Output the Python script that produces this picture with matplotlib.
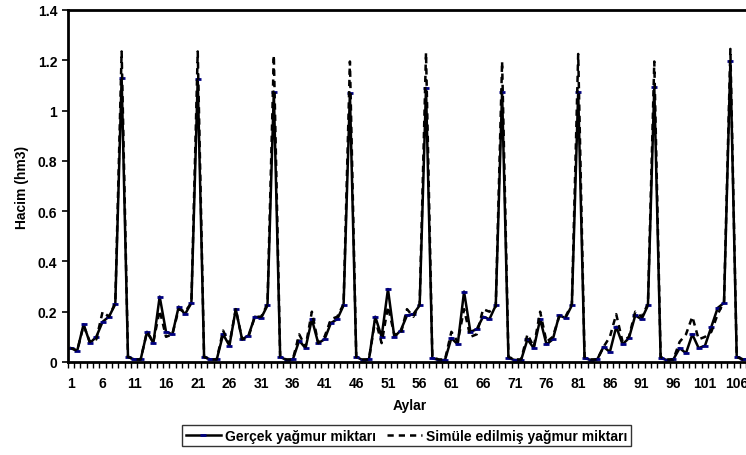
import numpy as np
import matplotlib
matplotlib.use("Agg")
import matplotlib.pyplot as plt

plt.rcParams['font.family'] = ['Liberation Sans', 'DejaVu Sans']
plt.rcParams['font.weight'] = 'bold'

# Aylık hacim değerleri (hm3), 9 yıl x 12 ay
gercek = [
    0.055, 0.045, 0.15, 0.075, 0.10, 0.16, 0.18, 0.23, 1.13, 0.02, 0.01, 0.01,
    0.12, 0.075, 0.26, 0.12, 0.11, 0.22, 0.19, 0.235, 1.125, 0.02, 0.01, 0.01,
    0.11, 0.065, 0.21, 0.09, 0.105, 0.18, 0.175, 0.225, 1.075, 0.02, 0.008, 0.01,
    0.085, 0.055, 0.17, 0.075, 0.09, 0.155, 0.17, 0.225, 1.07, 0.02, 0.008, 0.01,
    0.18, 0.10, 0.29, 0.10, 0.125, 0.185, 0.19, 0.225, 1.09, 0.015, 0.008, 0.008,
    0.095, 0.07, 0.28, 0.12, 0.13, 0.18, 0.17, 0.225, 1.075, 0.015, 0.008, 0.008,
    0.09, 0.055, 0.17, 0.07, 0.09, 0.185, 0.175, 0.225, 1.075, 0.015, 0.008, 0.01,
    0.06, 0.04, 0.14, 0.07, 0.095, 0.185, 0.17, 0.225, 1.095, 0.015, 0.008, 0.01,
    0.055, 0.035, 0.11, 0.055, 0.065, 0.14, 0.215, 0.235, 1.195, 0.02, 0.01, 0.01,
]
simule = [
    0.055, 0.045, 0.145, 0.08, 0.09, 0.20, 0.18, 0.235, 1.235, 0.02, 0.01, 0.01,
    0.12, 0.08, 0.205, 0.10, 0.11, 0.21, 0.20, 0.235, 1.235, 0.02, 0.01, 0.01,
    0.125, 0.07, 0.21, 0.09, 0.10, 0.18, 0.18, 0.23, 1.22, 0.02, 0.01, 0.01,
    0.11, 0.06, 0.20, 0.075, 0.10, 0.17, 0.18, 0.23, 1.195, 0.02, 0.01, 0.01,
    0.17, 0.075, 0.22, 0.11, 0.11, 0.21, 0.18, 0.23, 1.23, 0.02, 0.01, 0.01,
    0.12, 0.08, 0.21, 0.10, 0.11, 0.21, 0.20, 0.22, 1.195, 0.02, 0.01, 0.01,
    0.11, 0.06, 0.20, 0.08, 0.10, 0.18, 0.18, 0.23, 1.225, 0.02, 0.01, 0.01,
    0.06, 0.10, 0.19, 0.08, 0.10, 0.20, 0.18, 0.23, 1.195, 0.02, 0.01, 0.01,
    0.08, 0.11, 0.18, 0.09, 0.10, 0.12, 0.19, 0.24, 1.245, 0.02, 0.01, 0.01,
]
aylar = np.arange(1, len(gercek) + 1)
x_etiketleri = list(range(1, 107, 5))
y_etiketleri = [0, 0.2, 0.4, 0.6, 0.8, 1, 1.2, 1.4]

fig = plt.figure(figsize=(7.46, 4.56), dpi=100)
# eksen sağda resmin dışına taşıyor (orijinalde kesik)
ax = fig.add_axes([0.0908, 0.204, 0.918, 0.772])

ax.plot(aylar, gercek, color='black', lw=1.8, marker='_', ms=5, mew=2,
        mec='#000080', label='Gerçek yağmur miktarı')
ax.plot(aylar, simule, color='black', lw=1.8, ls=(0, (2.5, 2)),
        label='Simüle edilmiş yağmur miktarı')

ax.set_xlim(0.5, len(aylar) + 0.5)
ax.set_ylim(0, 1.4)
ax.set_yticks(y_etiketleri)
ax.set_yticklabels(['0', '0.2', '0.4', '0.6', '0.8', '1', '1.2', '1.4'])
ax.set_xticks(x_etiketleri)
ax.set_xticks(np.arange(0.5, len(aylar) + 1, 1), minor=True)
ax.tick_params(axis='x', which='major', length=0, pad=10, labelsize=10)
ax.tick_params(axis='x', which='minor', length=4, width=1, direction='out')
ax.tick_params(axis='y', length=4, width=1.2, labelsize=10)

for s in ['left', 'bottom', 'top', 'right']:
    ax.spines[s].set_linewidth(2)

ax.set_xlabel('Aylar', fontsize=10, fontweight='bold', labelpad=6)
ax.set_ylabel('Hacim (hm3)', fontsize=10, fontweight='bold', labelpad=6)

leg = fig.legend(loc='center', bbox_to_anchor=(0.545, 0.042), ncol=2,
                 fontsize=10, frameon=True, fancybox=False, edgecolor='black',
                 handlelength=2.5, borderpad=0.25, columnspacing=0.8,
                 handletextpad=0.3)
leg.get_frame().set_linewidth(1)

plt.savefig('out.png', dpi=100)
